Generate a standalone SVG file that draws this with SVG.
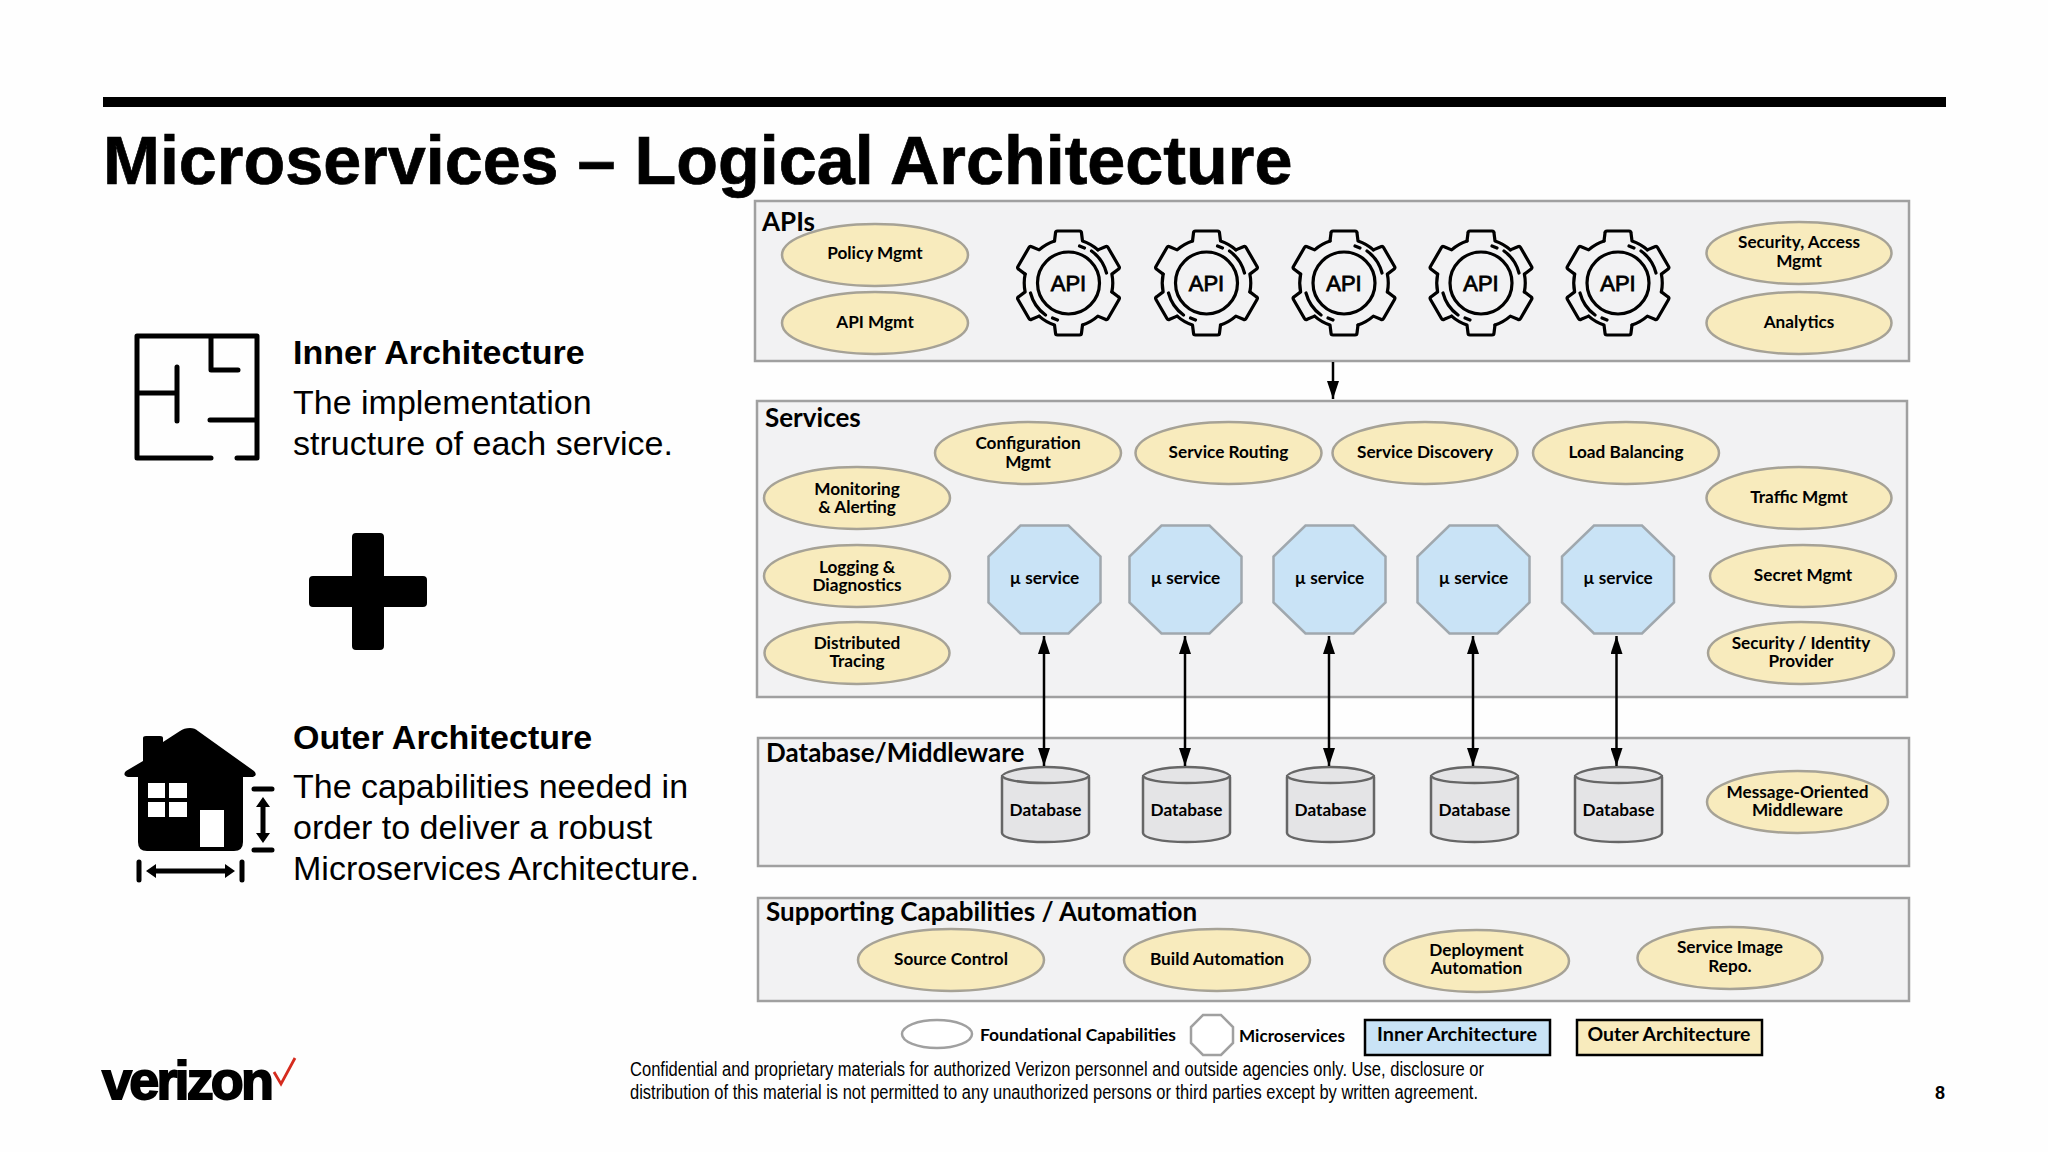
<svg xmlns="http://www.w3.org/2000/svg" width="2048" height="1152" viewBox="0 0 2048 1152">
<style>
text{font-family:"Liberation Sans",Arial,sans-serif;fill:#000}
.panel{fill:#f2f2f3;stroke:#a0a0a0;stroke-width:2.5}
.cap{fill:#f8ebbd;stroke:#a6a296;stroke-width:2.5}
.svc{fill:#c9e3f6;stroke:#a0a8ae;stroke-width:2.5}
.db{fill:#e4e4e6;stroke:#666;stroke-width:2.5}
.l{font-family:Lato,"Liberation Sans",sans-serif;font-weight:700;font-size:17.2px;text-anchor:middle}
.h{font-family:Lato,"Liberation Sans",sans-serif;font-weight:700;font-size:26px}
.ah{font-size:34px;font-weight:700}
.bd{font-size:34px}
.ln{stroke:#000;stroke-width:2.5;fill:none}
.ic{stroke:#000;stroke-width:5;fill:none;stroke-linecap:round;stroke-linejoin:round}
.g{stroke:#000;stroke-width:3.2;fill:none;stroke-linecap:round;stroke-linejoin:round}
.gt{font-size:22px;text-anchor:middle;font-weight:400;stroke:#000;stroke-width:.8}
</style>
<defs>
<marker id="a" viewBox="0 0 18 12" refX="18" refY="6" markerWidth="18" markerHeight="12" markerUnits="userSpaceOnUse" orient="auto-start-reverse"><path d="M0 0L18 6L0 12Z" fill="#000"/></marker>
<path id="gp" d="M-14-42L-13-50Q-13-52-11-52L11-52Q13-52 13-50L14-42A44.3 44.3 0 0 1 29.4-33.1"/>
<g id="gear" class="g">
<use href="#gp"/><use href="#gp" transform="rotate(60)"/><use href="#gp" transform="rotate(120)"/><use href="#gp" transform="rotate(180)"/><use href="#gp" transform="rotate(240)"/><use href="#gp" transform="rotate(300)"/>
<circle r="31"/>
<path d="M11-37L16-35M23-32A39 39 0 0 1 38-10M-11 37L-16 35M-23 32A39 39 0 0 1-38 10"/>
</g>
<polygon id="oct" points="-24,-54 24,-54 56,-23 56,23 24,54 -24,54 -56,23 -56,-23"/>
<g id="cyl" class="db"><path d="M0 10V66C0 71 19 75 43.500 75S87 71 87 66V10C87 5 68 0 43.500 0S0 5 0 10Z"/><path d="M0 8C0 13 19 16 43.500 16S87 13 87 8"/></g>
</defs>
<rect width="2048" height="1152" fill="#fefefe"/>
<rect id="top-bar" x="103" y="97" width="1843" height="10" fill="#000"/>
<text id="title" x="103" y="184" font-size="68.300" font-weight="700" stroke="#000" stroke-width=".7">Microservices – Logical Architecture</text>

<g id="inner-icon" class="ic"><path d="M211 458H137V336H257V458H237M211 336V370H238M177 367V421M137 393H177M210 420H257"/></g>
<g id="inner-text"><text class="ah" x="293" y="364">Inner Architecture</text><text class="bd" x="293" y="414">The implementation</text><text class="bd" x="293" y="455">structure of each service.</text></g>
<path id="plus" d="M356 533H380Q384 533 384 537V576H423Q427 576 427 580V603Q427 607 423 607H384V646Q384 650 380 650H356Q352 650 352 646V607H313Q309 607 309 603V580Q309 576 313 576H352V537Q352 533 356 533Z" fill="#000"/>
<g id="outer-icon">
<path d="M190 728Q184 728 180 731L163 742V738Q163 736 160 736H146Q143 736 143 738V761L126 771Q122 775 128 777H138V842Q138 851 147 851H234Q243 851 243 842V777H253Q258 775 254 771L198 731Q195 728 190 728Z" fill="#000"/>
<path d="M148 783H165V798H148ZM169 783H187V798H169ZM148 802H165V817H148ZM169 802H187V817H169ZM200 810H224V847H200Z" fill="#fff"/>
<path class="ic" d="M254 789H272M254 850H272M139 862V880M242 862V880M263 804V836M153 871H228"/>
<path d="M263 797L270 807H256ZM263 843L270 833H256ZM146 871L156 864V878ZM235 871L225 864V878Z" fill="#000"/>
</g>
<g id="outer-text"><text class="ah" x="293" y="749">Outer Architecture</text><text class="bd" x="293" y="798">The capabilities needed in</text><text class="bd" x="293" y="839">order to deliver a robust</text><text class="bd" x="293" y="880">Microservices Architecture.</text></g>

<g id="panel-apis"><rect class="panel" x="755" y="201" width="1154" height="160"/><text class="h" x="762" y="231">APIs</text></g>
<g id="panel-services"><rect class="panel" x="757" y="401" width="1150" height="296"/><text class="h" x="765" y="427">Services</text></g>
<g id="panel-db"><rect class="panel" x="758" y="738" width="1151" height="128"/><text class="h" x="766" y="762">Database/Middleware</text></g>
<g id="panel-support"><rect class="panel" x="758" y="898" width="1151" height="103"/><text class="h" x="766" y="921">Supporting Capabilities / Automation</text></g>

<g id="policy"><ellipse class="cap" cx="875" cy="255" rx="93" ry="31"/><text class="l" x="875" y="259">Policy Mgmt</text></g>
<g id="api-mgmt"><ellipse class="cap" cx="875" cy="323" rx="93" ry="31"/><text class="l" x="875" y="328">API Mgmt</text></g>
<g id="security"><ellipse class="cap" cx="1799" cy="253" rx="92.500" ry="31"/><text class="l" x="1799" y="248">Security, Access</text><text class="l" x="1799" y="267">Mgmt</text></g>
<g id="analytics"><ellipse class="cap" cx="1799" cy="323" rx="92.500" ry="31"/><text class="l" x="1799" y="328">Analytics</text></g>
<g id="gear1"><use href="#gear" x="1068.500" y="283"/><text class="gt" x="1068.500" y="291">API</text></g>
<g id="gear2"><use href="#gear" x="1206.500" y="283"/><text class="gt" x="1206.500" y="291">API</text></g>
<g id="gear3"><use href="#gear" x="1344" y="283"/><text class="gt" x="1344" y="291">API</text></g>
<g id="gear4"><use href="#gear" x="1481" y="283"/><text class="gt" x="1481" y="291">API</text></g>
<g id="gear5"><use href="#gear" x="1618" y="283"/><text class="gt" x="1618" y="291">API</text></g>

<g id="config"><ellipse class="cap" cx="1028" cy="453" rx="93" ry="31"/><text class="l" x="1028" y="449">Configuration</text><text class="l" x="1028" y="468">Mgmt</text></g>
<g id="routing"><ellipse class="cap" cx="1228.500" cy="453" rx="93" ry="31"/><text class="l" x="1228.500" y="458">Service Routing</text></g>
<g id="discovery"><ellipse class="cap" cx="1425" cy="453" rx="92.500" ry="31"/><text class="l" x="1425" y="458">Service Discovery</text></g>
<g id="load"><ellipse class="cap" cx="1626" cy="453" rx="93" ry="31"/><text class="l" x="1626" y="458">Load Balancing</text></g>
<g id="monitoring"><ellipse class="cap" cx="857" cy="498" rx="93" ry="31"/><text class="l" x="857" y="495">Monitoring</text><text class="l" x="857" y="513">&amp; Alerting</text></g>
<g id="logging"><ellipse class="cap" cx="857" cy="576" rx="93" ry="31"/><text class="l" x="857" y="573">Logging &amp;</text><text class="l" x="857" y="591">Diagnostics</text></g>
<g id="tracing"><ellipse class="cap" cx="857" cy="653" rx="92.500" ry="31"/><text class="l" x="857" y="649">Distributed</text><text class="l" x="857" y="667">Tracing</text></g>
<g id="traffic"><ellipse class="cap" cx="1799" cy="498" rx="92.500" ry="31"/><text class="l" x="1799" y="503">Traffic Mgmt</text></g>
<g id="secret"><ellipse class="cap" cx="1803" cy="576" rx="93" ry="31"/><text class="l" x="1803" y="581">Secret Mgmt</text></g>
<g id="identity"><ellipse class="cap" cx="1801" cy="653" rx="93" ry="31"/><text class="l" x="1801" y="649">Security / Identity</text><text class="l" x="1801" y="667">Provider</text></g>

<g id="svc1"><use href="#oct" class="svc" x="1044.500" y="579.500"/><text class="l" x="1044.500" y="584">µ service</text></g>
<g id="svc2"><use href="#oct" class="svc" x="1185.500" y="579.500"/><text class="l" x="1185.500" y="584">µ service</text></g>
<g id="svc3"><use href="#oct" class="svc" x="1329.500" y="579.500"/><text class="l" x="1329.500" y="584">µ service</text></g>
<g id="svc4"><use href="#oct" class="svc" x="1473.500" y="579.500"/><text class="l" x="1473.500" y="584">µ service</text></g>
<g id="svc5"><use href="#oct" class="svc" x="1618" y="579.500"/><text class="l" x="1618" y="584">µ service</text></g>

<g id="db1"><use href="#cyl" x="1002" y="767"/><text class="l" x="1045.500" y="816">Database</text></g>
<g id="db2"><use href="#cyl" x="1143" y="767"/><text class="l" x="1186.500" y="816">Database</text></g>
<g id="db3"><use href="#cyl" x="1287" y="767"/><text class="l" x="1330.500" y="816">Database</text></g>
<g id="db4"><use href="#cyl" x="1431" y="767"/><text class="l" x="1474.500" y="816">Database</text></g>
<g id="db5"><use href="#cyl" x="1575" y="767"/><text class="l" x="1618.500" y="816">Database</text></g>
<g id="mom"><ellipse class="cap" cx="1797.500" cy="802" rx="90.500" ry="31"/><text class="l" x="1797.500" y="798">Message-Oriented</text><text class="l" x="1797.500" y="816">Middleware</text></g>

<g id="source"><ellipse class="cap" cx="951" cy="960" rx="93" ry="31"/><text class="l" x="951" y="965">Source Control</text></g>
<g id="build"><ellipse class="cap" cx="1217" cy="960" rx="93" ry="31"/><text class="l" x="1217" y="965">Build Automation</text></g>
<g id="deploy"><ellipse class="cap" cx="1476.500" cy="961" rx="92.500" ry="31"/><text class="l" x="1476.500" y="956">Deployment</text><text class="l" x="1476.500" y="974">Automation</text></g>
<g id="repo"><ellipse class="cap" cx="1730" cy="958" rx="92.500" ry="31"/><text class="l" x="1730" y="953">Service Image</text><text class="l" x="1730" y="972">Repo.</text></g>

<g id="connectors" class="ln">
<path marker-end="url(#a)" d="M1333 362V399"/>
<path marker-start="url(#a)" marker-end="url(#a)" d="M1044 636V766"/>
<path marker-start="url(#a)" marker-end="url(#a)" d="M1185 636V766"/>
<path marker-start="url(#a)" marker-end="url(#a)" d="M1329 636V766"/>
<path marker-start="url(#a)" marker-end="url(#a)" d="M1473 636V766"/>
<path marker-start="url(#a)" marker-end="url(#a)" d="M1616.500 636V766"/>
</g>

<g id="legend">
<ellipse cx="937" cy="1034" rx="35" ry="14" fill="#fff" stroke="#a0a0a0" stroke-width="2.500"/>
<text class="l" x="1078" y="1041" textLength="196" lengthAdjust="spacingAndGlyphs">Foundational Capabilities</text>
<polygon points="1203,1015 1221,1015 1233,1027 1233,1043 1221,1055 1203,1055 1191,1043 1191,1027" fill="#fff" stroke="#a0a0a0" stroke-width="2.500"/>
<text class="l" x="1292" y="1042" textLength="106" lengthAdjust="spacingAndGlyphs">Microservices</text>
<rect x="1365" y="1020" width="185" height="35" fill="#c9e3f6" stroke="#000" stroke-width="2.500"/>
<text class="l" x="1457" y="1041" style="font-size:19px" textLength="160" lengthAdjust="spacingAndGlyphs">Inner Architecture</text>
<rect x="1577" y="1020" width="185" height="35" fill="#f8ebbd" stroke="#000" stroke-width="2.500"/>
<text class="l" x="1669" y="1041" style="font-size:19px" textLength="163" lengthAdjust="spacingAndGlyphs">Outer Architecture</text>
</g>
<g id="footer">
<text x="630" y="1076" font-size="20" textLength="854" lengthAdjust="spacingAndGlyphs">Confidential and proprietary materials for authorized Verizon personnel and outside agencies only. Use, disclosure or</text>
<text x="630" y="1099" font-size="20" textLength="848" lengthAdjust="spacingAndGlyphs">distribution of this material is not permitted to any unauthorized persons or third parties except by written agreement.</text>
<text x="1935" y="1099" font-size="18" font-weight="700">8</text>
</g>
<g id="logo"><text x="102" y="1099" font-size="54" font-weight="700" stroke="#000" stroke-width="1.800" textLength="172" lengthAdjust="spacing">verizon</text><path d="M274 1072L281 1084L295 1058" fill="none" stroke="#d52b1e" stroke-width="2.800"/></g>
</svg>
